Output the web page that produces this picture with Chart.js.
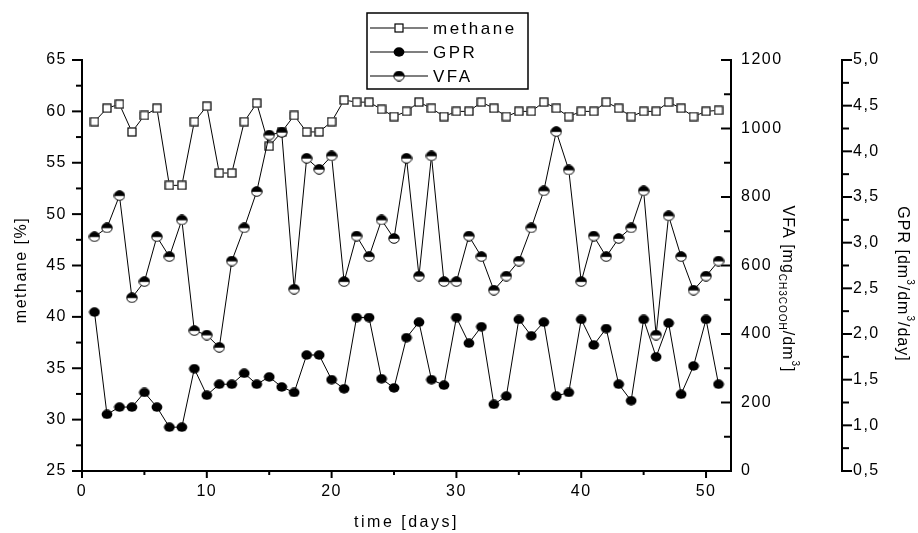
<!DOCTYPE html>
<html>
<head>
<meta charset="utf-8">
<title>Digester run</title>
<script src="https://cdn.jsdelivr.net/npm/chart.js@4.4.0/dist/chart.umd.min.js"></script>
<style>
  html, body { margin: 0; padding: 0; background: #fff; }
  #wrap { width: 918px; height: 533px; }
</style>
</head>
<body>
<div id="wrap"><canvas id="digester" width="918" height="533"></canvas></div>
<script>
// daily measurements
const days = Array.from({ length: 51 }, (_, i) => i + 1);
const methane = [59.0, 60.3, 60.7, 58.0, 59.6, 60.3, 52.8, 52.8, 59.0, 60.5,
                 54.0, 54.0, 59.0, 60.8, 56.6, 58.0, 59.6, 58.0, 58.0, 59.0,
                 61.1, 60.9, 60.9, 60.2, 59.5, 60.0, 60.9, 60.3, 59.5, 60.0,
                 60.0, 60.9, 60.3, 59.5, 60.0, 60.0, 60.9, 60.3, 59.5, 60.0,
                 60.0, 60.9, 60.3, 59.5, 60.0, 60.0, 60.9, 60.3, 59.5, 60.0, 60.1];
const gpr = [2.24, 1.12, 1.20, 1.20, 1.36, 1.20, 0.98, 0.98, 1.62, 1.33,
             1.45, 1.45, 1.57, 1.45, 1.53, 1.42, 1.36, 1.77, 1.77, 1.50,
             1.40, 2.18, 2.18, 1.51, 1.41, 1.96, 2.13, 1.50, 1.44, 2.18,
             1.90, 2.08, 1.23, 1.32, 2.16, 1.98, 2.13, 1.32, 1.36, 2.16,
             1.88, 2.06, 1.45, 1.27, 2.16, 1.75, 2.12, 1.34, 1.65, 2.16, 1.45];
const vfa = [684, 710, 804, 506, 553, 684, 626, 733, 410, 397,
             361, 613, 710, 816, 981, 989, 531, 913, 881, 920,
             553, 686, 626, 733, 679, 913, 569, 920, 553, 553,
             686, 626, 528, 569, 613, 710, 818, 991, 879, 553,
             686, 626, 679, 710, 818, 397, 745, 626, 528, 569, 613];

// axis ranges: [min, max, major step, minor step]
const timeAxis = [0, 50, 10, 5];
const methaneAxis = [25, 65, 5, 2.5];
const vfaAxis = [0, 1200, 200, 100];
const gprAxis = [0.5, 5.0, 0.5, 0.25];

const FONT = "'Liberation Sans', Arial, Helvetica, sans-serif";

function makeMarker(w, h, paint) {
  const c = document.createElement('canvas');
  c.width = w; c.height = h;
  paint(c.getContext('2d'), w, h);
  return c;
}

const squareMark = makeMarker(10, 10, g => {
  g.fillStyle = '#fff';
  g.fillRect(0.5, 0.5, 9, 9);
  g.strokeStyle = '#000';
  g.lineWidth = 1.2;
  g.strokeRect(1, 1, 8, 8);
});

const dotMark = makeMarker(12, 10, g => {
  g.fillStyle = '#000';
  g.beginPath();
  g.ellipse(6, 5, 5.4, 4.7, 0, 0, Math.PI * 2);
  g.fill();
});

const halfMark = makeMarker(12, 11, g => {
  g.beginPath();
  g.ellipse(6, 5.5, 5.2, 4.8, 0, 0, Math.PI * 2);
  g.fillStyle = '#fff';
  g.fill();
  g.save();
  g.clip();
  g.fillStyle = '#000';
  g.fillRect(0, 0, 12, 5.8);
  g.restore();
  g.strokeStyle = '#000';
  g.lineWidth = 1;
  g.stroke();
});

const toPoints = values => days.map((d, i) => ({ x: d, y: values[i] }));

const axisFrame = {
  id: 'axisFrame',
  beforeDraw(chart) {
    chart.ctx.letterSpacing = '1.5px';
  },
  beforeDatasetsDraw(chart) {
    const { ctx, chartArea: a, scales } = chart;
    const seg = (x1, y1, x2, y2) => {
      ctx.beginPath(); ctx.moveTo(x1, y1); ctx.lineTo(x2, y2); ctx.stroke();
    };
    const steps = ([min, max, major, minor], fn) => {
      for (let v = min; v <= max + 1e-9; v += minor) {
        const isMajor = Math.abs(v / major - Math.round(v / major)) < 1e-6;
        fn(v, isMajor);
      }
    };
    ctx.save();
    ctx.strokeStyle = '#000';
    ctx.lineWidth = 2;
    ctx.lineCap = 'square';
    const gx = scales.yGpr.left;
    seg(a.left, a.top, a.left, a.bottom);
    seg(a.left, a.bottom, a.right, a.bottom);
    seg(a.right, a.top, a.right, a.bottom);
    seg(gx, scales.yGpr.top, gx, scales.yGpr.bottom);

    ctx.lineCap = 'butt';
    steps(methaneAxis, (v, big) => {
      const y = scales.yMethane.getPixelForValue(v);
      seg(a.left - (big ? 10 : 6), y, a.left, y);
    });
    steps(timeAxis, (v, big) => {
      const x = scales.x.getPixelForValue(v);
      seg(x, a.bottom, x, a.bottom + (big ? 7 : 4));
    });
    steps(vfaAxis, (v, big) => {
      const y = scales.yVfa.getPixelForValue(v);
      seg(a.right - (big ? 10 : 7), y, a.right, y);
    });
    steps(gprAxis, (v, big) => {
      const y = scales.yGpr.getPixelForValue(v);
      seg(gx, y, gx + (big ? 10 : 7), y);
    });
    ctx.restore();
  }
};

// text made of runs: {t, size, dy}
function drawRuns(ctx, runs, x, y, angle, spacing) {
  ctx.save();
  ctx.translate(x, y);
  ctx.rotate(angle);
  ctx.letterSpacing = spacing + 'px';
  ctx.fillStyle = '#000';
  ctx.textBaseline = 'alphabetic';
  ctx.textAlign = 'left';
  let total = 0;
  runs.forEach(r => {
    ctx.font = r.size + 'px ' + FONT;
    r.w = ctx.measureText(r.t).width;
    total += r.w;
  });
  let cx = -total / 2;
  runs.forEach(r => {
    ctx.font = r.size + 'px ' + FONT;
    ctx.fillText(r.t, cx, r.dy || 0);
    cx += r.w;
  });
  ctx.restore();
}

const titlesAndKey = {
  id: 'titlesAndKey',
  afterDraw(chart) {
    const { ctx, chartArea: a } = chart;
    drawRuns(ctx, [{ t: 'time [days]', size: 16 }], (a.left + a.right) / 2, 527, 0, 2.5);
    drawRuns(ctx, [{ t: 'methane [%]', size: 16 }], 26, 270, -Math.PI / 2, 1.5);
    drawRuns(ctx, [
      { t: 'VFA [mg', size: 16 },
      { t: 'CH3COOH', size: 10, dy: 4 },
      { t: '/dm', size: 16 },
      { t: '3', size: 10, dy: -9 },
      { t: ']', size: 16 }
    ], 783, 289, Math.PI / 2, 1);
    drawRuns(ctx, [
      { t: 'GPR [dm', size: 16 },
      { t: '3', size: 10, dy: -9 },
      { t: '/dm', size: 16 },
      { t: '3', size: 10, dy: -9 },
      { t: '/day]', size: 16 }
    ], 898, 284, Math.PI / 2, 1);

    // legend box
    ctx.save();
    ctx.fillStyle = '#fff';
    ctx.fillRect(367, 13, 161, 76);
    ctx.strokeStyle = '#000';
    ctx.lineWidth = 1.5;
    ctx.strokeRect(367, 13, 161, 76);
    ctx.lineWidth = 1.2;
    ctx.letterSpacing = '2.5px';
    ctx.font = '17px ' + FONT;
    ctx.fillStyle = '#000';
    ctx.textBaseline = 'middle';
    chart.data.datasets.forEach((ds, i) => {
      const y = 28 + i * 24;
      ctx.beginPath();
      ctx.moveTo(370, y); ctx.lineTo(428, y);
      ctx.stroke();
      const m = ds.pointStyle;
      ctx.drawImage(m, 399 - m.width / 2, y - m.height / 2);
      ctx.fillText(ds.label, 433, y + 1);
    });
    ctx.restore();
  }
};

Chart.defaults.font.family = FONT;
Chart.defaults.font.size = 16;
Chart.defaults.color = '#000';

const hiddenGrid = { display: false, drawTicks: false };

new Chart(document.getElementById('digester'), {
  type: 'line',
  data: {
    datasets: [
      {
        label: 'methane', data: toPoints(methane), yAxisID: 'yMethane',
        borderColor: '#000', borderWidth: 1, pointStyle: squareMark,
        pointRadius: 5, tension: 0, order: 2
      },
      {
        label: 'GPR', data: toPoints(gpr), yAxisID: 'yGpr',
        borderColor: '#000', borderWidth: 1, pointStyle: dotMark,
        pointRadius: 5, tension: 0, order: 1
      },
      {
        label: 'VFA', data: toPoints(vfa), yAxisID: 'yVfa',
        borderColor: '#000', borderWidth: 1, pointStyle: halfMark,
        pointRadius: 5, tension: 0, order: 0
      }
    ]
  },
  options: {
    responsive: false,
    animation: false,
    devicePixelRatio: 1,
    layout: { padding: { top: 60, left: 0, right: 0, bottom: 0 } },
    plugins: { legend: { display: false }, tooltip: { enabled: false } },
    elements: { line: { fill: false } },
    scales: {
      x: {
        type: 'linear', min: 0, max: 52,
        grid: hiddenGrid, border: { display: false },
        ticks: { stepSize: 10, includeBounds: false, padding: 11, maxRotation: 0, autoSkip: false },
        afterFit: s => { s.height = 62; }
      },
      yMethane: {
        position: 'left', min: 25, max: 65,
        grid: hiddenGrid, border: { display: false },
        ticks: { stepSize: 5, padding: 15 },
        afterFit: s => { s.width = 82; }
      },
      yVfa: {
        position: 'right', min: 0, max: 1200, weight: 0,
        grid: hiddenGrid, border: { display: false },
        ticks: { stepSize: 200, padding: 10, callback: v => String(v) },
        afterFit: s => { s.width = 111; }
      },
      yGpr: {
        position: 'right', min: 0.5, max: 5, weight: 1,
        grid: hiddenGrid, border: { display: false },
        ticks: { stepSize: 0.5, padding: 11, callback: v => v.toFixed(1).replace('.', ',') },
        afterFit: s => { s.width = 76; }
      }
    }
  },
  plugins: [axisFrame, titlesAndKey]
});
</script>
</body>
</html>
